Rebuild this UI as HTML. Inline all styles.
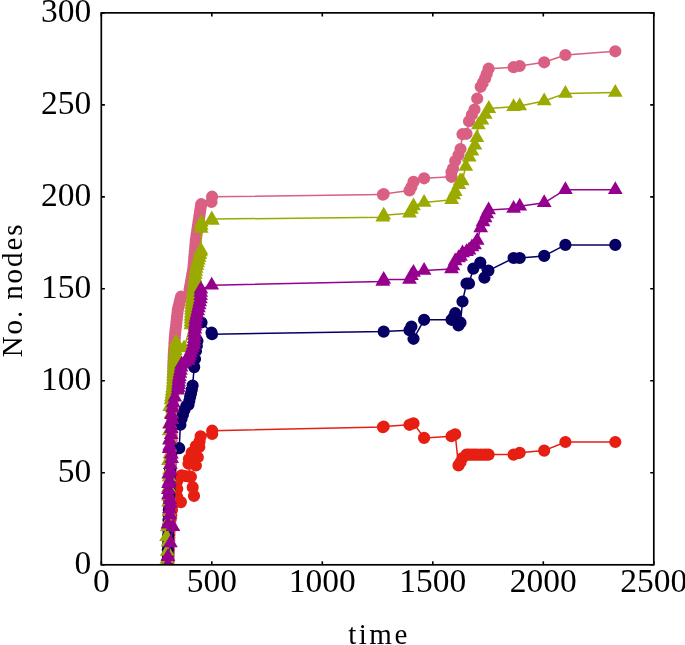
<!DOCTYPE html>
<html><head><meta charset="utf-8"><title>No. nodes over time</title>
<style>
html,body{margin:0;padding:0;background:#fff}
svg{display:block}
text{font-family:"Liberation Serif",serif;fill:#000}
.tk text{font-size:33.5px}
.lb{font-size:29px;letter-spacing:2.5px}.yl{letter-spacing:1.9px}
</style></head><body>
<svg width="685" height="645" viewBox="0 0 685 645">
<rect width="685" height="645" fill="#fff"/>
<defs><clipPath id="cp"><rect x="101.3" y="12.85" width="552.5" height="551.9499999999999"/></clipPath></defs>
<g clip-path="url(#cp)">
<path d="M168.5 564.8L168.6 561.8L168.7 558.8L168.8 555.8L168.9 552.9L169.0 549.9L169.1 546.9L169.2 543.9L169.3 540.9L169.4 537.9L169.5 534.9L169.6 531.9L169.7 529.0L169.8 526.0L169.9 523.0L170.0 520.0L170.1 517.1L170.1 514.1L170.2 511.2L170.2 508.2L170.3 505.3L170.4 502.4L170.4 499.4L170.5 496.5L170.5 493.5L170.6 490.6L170.6 487.6L170.7 484.7L170.8 481.8L170.8 478.8L170.9 475.9L170.9 472.9L171.0 470.0L171.1 467.1L171.1 464.1L171.2 461.2L171.2 458.2L171.3 455.3L171.4 452.4L171.4 449.4L171.5 446.5L171.5 443.5L171.6 440.6L171.6 437.6L171.7 434.7L171.8 431.8L171.8 428.8L171.9 425.9L171.9 422.9L172.0 420.0L172.1 416.9L172.2 413.8L172.2 410.8L172.3 407.7L172.4 404.6L172.5 401.5L172.5 398.5L172.6 395.4L172.7 392.3L172.8 389.2L172.8 386.2L172.9 383.1L173.0 380.0L173.1 376.9L173.2 373.8L173.3 370.6L173.3 367.5L173.4 364.4L173.5 361.2L173.6 358.1L173.7 355.0L173.9 352.1L174.1 349.3L174.3 346.4L174.4 343.6L174.6 340.7L174.8 337.9L175.0 335.0L175.3 331.9L175.7 328.8L176.1 325.6L176.4 322.5L176.8 319.4L177.1 316.2L177.5 313.1L177.8 310.0L178.4 307.3L179.1 304.7L179.7 302.0L180.4 299.4L181.0 296.7L189.6 289.6L190.1 286.6L190.7 283.6L191.2 280.6L191.7 277.5L192.2 274.5L192.8 271.5L193.3 268.5L193.6 265.6L193.8 262.8L194.1 259.9L194.3 257.1L194.6 254.2L194.8 251.4L195.1 248.6L195.3 245.7L195.6 242.8L195.8 240.0L196.2 237.0L196.7 234.0L197.2 230.9L197.6 227.9L198.1 224.9L198.5 221.9L199.0 218.9L199.4 215.8L199.9 212.8L200.3 209.8L200.8 207.0L201.2 204.2L211.5 202.0L212.1 196.7L382.9 194.6L383.7 194.1L409.5 190.5L411.4 187.0L413.5 181.9L424.1 178.3L451.5 176.8L451.5 172.0L453.0 168.6L455.2 161.0L458.5 155.0L460.5 149.0L462.5 134.2L466.5 133.8L469.0 121.2L471.9 114.8L474.5 109.5L477.2 98.5L480.7 86.8L483.0 82.6L485.1 78.4L486.7 74.0L488.6 68.7L513.6 67.2L519.7 66.0L544.2 62.3L565.4 55.0L615.3 51.3" fill="none" stroke="#D95F83" stroke-width="1.5" stroke-linejoin="round"/>
<path d="M162.4 564.8a6.1 6.1 0 1 0 12.2 0a6.1 6.1 0 1 0 -12.2 0ZM162.5 561.8a6.1 6.1 0 1 0 12.2 0a6.1 6.1 0 1 0 -12.2 0ZM162.6 558.8a6.1 6.1 0 1 0 12.2 0a6.1 6.1 0 1 0 -12.2 0ZM162.7 555.8a6.1 6.1 0 1 0 12.2 0a6.1 6.1 0 1 0 -12.2 0ZM162.8 552.9a6.1 6.1 0 1 0 12.2 0a6.1 6.1 0 1 0 -12.2 0ZM162.9 549.9a6.1 6.1 0 1 0 12.2 0a6.1 6.1 0 1 0 -12.2 0ZM163.0 546.9a6.1 6.1 0 1 0 12.2 0a6.1 6.1 0 1 0 -12.2 0ZM163.1 543.9a6.1 6.1 0 1 0 12.2 0a6.1 6.1 0 1 0 -12.2 0ZM163.2 540.9a6.1 6.1 0 1 0 12.2 0a6.1 6.1 0 1 0 -12.2 0ZM163.3 537.9a6.1 6.1 0 1 0 12.2 0a6.1 6.1 0 1 0 -12.2 0ZM163.4 534.9a6.1 6.1 0 1 0 12.2 0a6.1 6.1 0 1 0 -12.2 0ZM163.5 531.9a6.1 6.1 0 1 0 12.2 0a6.1 6.1 0 1 0 -12.2 0ZM163.6 529.0a6.1 6.1 0 1 0 12.2 0a6.1 6.1 0 1 0 -12.2 0ZM163.7 526.0a6.1 6.1 0 1 0 12.2 0a6.1 6.1 0 1 0 -12.2 0ZM163.8 523.0a6.1 6.1 0 1 0 12.2 0a6.1 6.1 0 1 0 -12.2 0ZM163.9 520.0a6.1 6.1 0 1 0 12.2 0a6.1 6.1 0 1 0 -12.2 0ZM164.0 517.1a6.1 6.1 0 1 0 12.2 0a6.1 6.1 0 1 0 -12.2 0ZM164.0 514.1a6.1 6.1 0 1 0 12.2 0a6.1 6.1 0 1 0 -12.2 0ZM164.1 511.2a6.1 6.1 0 1 0 12.2 0a6.1 6.1 0 1 0 -12.2 0ZM164.1 508.2a6.1 6.1 0 1 0 12.2 0a6.1 6.1 0 1 0 -12.2 0ZM164.2 505.3a6.1 6.1 0 1 0 12.2 0a6.1 6.1 0 1 0 -12.2 0ZM164.3 502.4a6.1 6.1 0 1 0 12.2 0a6.1 6.1 0 1 0 -12.2 0ZM164.3 499.4a6.1 6.1 0 1 0 12.2 0a6.1 6.1 0 1 0 -12.2 0ZM164.4 496.5a6.1 6.1 0 1 0 12.2 0a6.1 6.1 0 1 0 -12.2 0ZM164.4 493.5a6.1 6.1 0 1 0 12.2 0a6.1 6.1 0 1 0 -12.2 0ZM164.5 490.6a6.1 6.1 0 1 0 12.2 0a6.1 6.1 0 1 0 -12.2 0ZM164.5 487.6a6.1 6.1 0 1 0 12.2 0a6.1 6.1 0 1 0 -12.2 0ZM164.6 484.7a6.1 6.1 0 1 0 12.2 0a6.1 6.1 0 1 0 -12.2 0ZM164.7 481.8a6.1 6.1 0 1 0 12.2 0a6.1 6.1 0 1 0 -12.2 0ZM164.7 478.8a6.1 6.1 0 1 0 12.2 0a6.1 6.1 0 1 0 -12.2 0ZM164.8 475.9a6.1 6.1 0 1 0 12.2 0a6.1 6.1 0 1 0 -12.2 0ZM164.8 472.9a6.1 6.1 0 1 0 12.2 0a6.1 6.1 0 1 0 -12.2 0ZM164.9 470.0a6.1 6.1 0 1 0 12.2 0a6.1 6.1 0 1 0 -12.2 0ZM165.0 467.1a6.1 6.1 0 1 0 12.2 0a6.1 6.1 0 1 0 -12.2 0ZM165.0 464.1a6.1 6.1 0 1 0 12.2 0a6.1 6.1 0 1 0 -12.2 0ZM165.1 461.2a6.1 6.1 0 1 0 12.2 0a6.1 6.1 0 1 0 -12.2 0ZM165.1 458.2a6.1 6.1 0 1 0 12.2 0a6.1 6.1 0 1 0 -12.2 0ZM165.2 455.3a6.1 6.1 0 1 0 12.2 0a6.1 6.1 0 1 0 -12.2 0ZM165.3 452.4a6.1 6.1 0 1 0 12.2 0a6.1 6.1 0 1 0 -12.2 0ZM165.3 449.4a6.1 6.1 0 1 0 12.2 0a6.1 6.1 0 1 0 -12.2 0ZM165.4 446.5a6.1 6.1 0 1 0 12.2 0a6.1 6.1 0 1 0 -12.2 0ZM165.4 443.5a6.1 6.1 0 1 0 12.2 0a6.1 6.1 0 1 0 -12.2 0ZM165.5 440.6a6.1 6.1 0 1 0 12.2 0a6.1 6.1 0 1 0 -12.2 0ZM165.5 437.6a6.1 6.1 0 1 0 12.2 0a6.1 6.1 0 1 0 -12.2 0ZM165.6 434.7a6.1 6.1 0 1 0 12.2 0a6.1 6.1 0 1 0 -12.2 0ZM165.7 431.8a6.1 6.1 0 1 0 12.2 0a6.1 6.1 0 1 0 -12.2 0ZM165.7 428.8a6.1 6.1 0 1 0 12.2 0a6.1 6.1 0 1 0 -12.2 0ZM165.8 425.9a6.1 6.1 0 1 0 12.2 0a6.1 6.1 0 1 0 -12.2 0ZM165.8 422.9a6.1 6.1 0 1 0 12.2 0a6.1 6.1 0 1 0 -12.2 0ZM165.9 420.0a6.1 6.1 0 1 0 12.2 0a6.1 6.1 0 1 0 -12.2 0ZM166.0 416.9a6.1 6.1 0 1 0 12.2 0a6.1 6.1 0 1 0 -12.2 0ZM166.1 413.8a6.1 6.1 0 1 0 12.2 0a6.1 6.1 0 1 0 -12.2 0ZM166.1 410.8a6.1 6.1 0 1 0 12.2 0a6.1 6.1 0 1 0 -12.2 0ZM166.2 407.7a6.1 6.1 0 1 0 12.2 0a6.1 6.1 0 1 0 -12.2 0ZM166.3 404.6a6.1 6.1 0 1 0 12.2 0a6.1 6.1 0 1 0 -12.2 0ZM166.4 401.5a6.1 6.1 0 1 0 12.2 0a6.1 6.1 0 1 0 -12.2 0ZM166.4 398.5a6.1 6.1 0 1 0 12.2 0a6.1 6.1 0 1 0 -12.2 0ZM166.5 395.4a6.1 6.1 0 1 0 12.2 0a6.1 6.1 0 1 0 -12.2 0ZM166.6 392.3a6.1 6.1 0 1 0 12.2 0a6.1 6.1 0 1 0 -12.2 0ZM166.7 389.2a6.1 6.1 0 1 0 12.2 0a6.1 6.1 0 1 0 -12.2 0ZM166.7 386.2a6.1 6.1 0 1 0 12.2 0a6.1 6.1 0 1 0 -12.2 0ZM166.8 383.1a6.1 6.1 0 1 0 12.2 0a6.1 6.1 0 1 0 -12.2 0ZM166.9 380.0a6.1 6.1 0 1 0 12.2 0a6.1 6.1 0 1 0 -12.2 0ZM167.0 376.9a6.1 6.1 0 1 0 12.2 0a6.1 6.1 0 1 0 -12.2 0ZM167.1 373.8a6.1 6.1 0 1 0 12.2 0a6.1 6.1 0 1 0 -12.2 0ZM167.2 370.6a6.1 6.1 0 1 0 12.2 0a6.1 6.1 0 1 0 -12.2 0ZM167.2 367.5a6.1 6.1 0 1 0 12.2 0a6.1 6.1 0 1 0 -12.2 0ZM167.3 364.4a6.1 6.1 0 1 0 12.2 0a6.1 6.1 0 1 0 -12.2 0ZM167.4 361.2a6.1 6.1 0 1 0 12.2 0a6.1 6.1 0 1 0 -12.2 0ZM167.5 358.1a6.1 6.1 0 1 0 12.2 0a6.1 6.1 0 1 0 -12.2 0ZM167.6 355.0a6.1 6.1 0 1 0 12.2 0a6.1 6.1 0 1 0 -12.2 0ZM167.8 352.1a6.1 6.1 0 1 0 12.2 0a6.1 6.1 0 1 0 -12.2 0ZM168.0 349.3a6.1 6.1 0 1 0 12.2 0a6.1 6.1 0 1 0 -12.2 0ZM168.2 346.4a6.1 6.1 0 1 0 12.2 0a6.1 6.1 0 1 0 -12.2 0ZM168.3 343.6a6.1 6.1 0 1 0 12.2 0a6.1 6.1 0 1 0 -12.2 0ZM168.5 340.7a6.1 6.1 0 1 0 12.2 0a6.1 6.1 0 1 0 -12.2 0ZM168.7 337.9a6.1 6.1 0 1 0 12.2 0a6.1 6.1 0 1 0 -12.2 0ZM168.9 335.0a6.1 6.1 0 1 0 12.2 0a6.1 6.1 0 1 0 -12.2 0ZM169.2 331.9a6.1 6.1 0 1 0 12.2 0a6.1 6.1 0 1 0 -12.2 0ZM169.6 328.8a6.1 6.1 0 1 0 12.2 0a6.1 6.1 0 1 0 -12.2 0ZM170.0 325.6a6.1 6.1 0 1 0 12.2 0a6.1 6.1 0 1 0 -12.2 0ZM170.3 322.5a6.1 6.1 0 1 0 12.2 0a6.1 6.1 0 1 0 -12.2 0ZM170.7 319.4a6.1 6.1 0 1 0 12.2 0a6.1 6.1 0 1 0 -12.2 0ZM171.0 316.2a6.1 6.1 0 1 0 12.2 0a6.1 6.1 0 1 0 -12.2 0ZM171.4 313.1a6.1 6.1 0 1 0 12.2 0a6.1 6.1 0 1 0 -12.2 0ZM171.7 310.0a6.1 6.1 0 1 0 12.2 0a6.1 6.1 0 1 0 -12.2 0ZM172.3 307.3a6.1 6.1 0 1 0 12.2 0a6.1 6.1 0 1 0 -12.2 0ZM173.0 304.7a6.1 6.1 0 1 0 12.2 0a6.1 6.1 0 1 0 -12.2 0ZM173.6 302.0a6.1 6.1 0 1 0 12.2 0a6.1 6.1 0 1 0 -12.2 0ZM174.3 299.4a6.1 6.1 0 1 0 12.2 0a6.1 6.1 0 1 0 -12.2 0ZM174.9 296.7a6.1 6.1 0 1 0 12.2 0a6.1 6.1 0 1 0 -12.2 0ZM183.5 289.6a6.1 6.1 0 1 0 12.2 0a6.1 6.1 0 1 0 -12.2 0ZM184.0 286.6a6.1 6.1 0 1 0 12.2 0a6.1 6.1 0 1 0 -12.2 0ZM184.6 283.6a6.1 6.1 0 1 0 12.2 0a6.1 6.1 0 1 0 -12.2 0ZM185.1 280.6a6.1 6.1 0 1 0 12.2 0a6.1 6.1 0 1 0 -12.2 0ZM185.6 277.5a6.1 6.1 0 1 0 12.2 0a6.1 6.1 0 1 0 -12.2 0ZM186.1 274.5a6.1 6.1 0 1 0 12.2 0a6.1 6.1 0 1 0 -12.2 0ZM186.7 271.5a6.1 6.1 0 1 0 12.2 0a6.1 6.1 0 1 0 -12.2 0ZM187.2 268.5a6.1 6.1 0 1 0 12.2 0a6.1 6.1 0 1 0 -12.2 0ZM187.5 265.6a6.1 6.1 0 1 0 12.2 0a6.1 6.1 0 1 0 -12.2 0ZM187.7 262.8a6.1 6.1 0 1 0 12.2 0a6.1 6.1 0 1 0 -12.2 0ZM188.0 259.9a6.1 6.1 0 1 0 12.2 0a6.1 6.1 0 1 0 -12.2 0ZM188.2 257.1a6.1 6.1 0 1 0 12.2 0a6.1 6.1 0 1 0 -12.2 0ZM188.5 254.2a6.1 6.1 0 1 0 12.2 0a6.1 6.1 0 1 0 -12.2 0ZM188.7 251.4a6.1 6.1 0 1 0 12.2 0a6.1 6.1 0 1 0 -12.2 0ZM189.0 248.6a6.1 6.1 0 1 0 12.2 0a6.1 6.1 0 1 0 -12.2 0ZM189.2 245.7a6.1 6.1 0 1 0 12.2 0a6.1 6.1 0 1 0 -12.2 0ZM189.5 242.8a6.1 6.1 0 1 0 12.2 0a6.1 6.1 0 1 0 -12.2 0ZM189.7 240.0a6.1 6.1 0 1 0 12.2 0a6.1 6.1 0 1 0 -12.2 0ZM190.2 237.0a6.1 6.1 0 1 0 12.2 0a6.1 6.1 0 1 0 -12.2 0ZM190.6 234.0a6.1 6.1 0 1 0 12.2 0a6.1 6.1 0 1 0 -12.2 0ZM191.1 230.9a6.1 6.1 0 1 0 12.2 0a6.1 6.1 0 1 0 -12.2 0ZM191.5 227.9a6.1 6.1 0 1 0 12.2 0a6.1 6.1 0 1 0 -12.2 0ZM192.0 224.9a6.1 6.1 0 1 0 12.2 0a6.1 6.1 0 1 0 -12.2 0ZM192.4 221.9a6.1 6.1 0 1 0 12.2 0a6.1 6.1 0 1 0 -12.2 0ZM192.9 218.9a6.1 6.1 0 1 0 12.2 0a6.1 6.1 0 1 0 -12.2 0ZM193.3 215.8a6.1 6.1 0 1 0 12.2 0a6.1 6.1 0 1 0 -12.2 0ZM193.8 212.8a6.1 6.1 0 1 0 12.2 0a6.1 6.1 0 1 0 -12.2 0ZM194.2 209.8a6.1 6.1 0 1 0 12.2 0a6.1 6.1 0 1 0 -12.2 0ZM194.7 207.0a6.1 6.1 0 1 0 12.2 0a6.1 6.1 0 1 0 -12.2 0ZM195.1 204.2a6.1 6.1 0 1 0 12.2 0a6.1 6.1 0 1 0 -12.2 0ZM205.4 202.0a6.1 6.1 0 1 0 12.2 0a6.1 6.1 0 1 0 -12.2 0ZM206.0 196.7a6.1 6.1 0 1 0 12.2 0a6.1 6.1 0 1 0 -12.2 0ZM376.8 194.6a6.1 6.1 0 1 0 12.2 0a6.1 6.1 0 1 0 -12.2 0ZM377.6 194.1a6.1 6.1 0 1 0 12.2 0a6.1 6.1 0 1 0 -12.2 0ZM403.4 190.5a6.1 6.1 0 1 0 12.2 0a6.1 6.1 0 1 0 -12.2 0ZM405.3 187.0a6.1 6.1 0 1 0 12.2 0a6.1 6.1 0 1 0 -12.2 0ZM407.4 181.9a6.1 6.1 0 1 0 12.2 0a6.1 6.1 0 1 0 -12.2 0ZM418.0 178.3a6.1 6.1 0 1 0 12.2 0a6.1 6.1 0 1 0 -12.2 0ZM445.4 176.8a6.1 6.1 0 1 0 12.2 0a6.1 6.1 0 1 0 -12.2 0ZM445.4 172.0a6.1 6.1 0 1 0 12.2 0a6.1 6.1 0 1 0 -12.2 0ZM446.9 168.6a6.1 6.1 0 1 0 12.2 0a6.1 6.1 0 1 0 -12.2 0ZM449.1 161.0a6.1 6.1 0 1 0 12.2 0a6.1 6.1 0 1 0 -12.2 0ZM452.4 155.0a6.1 6.1 0 1 0 12.2 0a6.1 6.1 0 1 0 -12.2 0ZM454.4 149.0a6.1 6.1 0 1 0 12.2 0a6.1 6.1 0 1 0 -12.2 0ZM456.4 134.2a6.1 6.1 0 1 0 12.2 0a6.1 6.1 0 1 0 -12.2 0ZM460.4 133.8a6.1 6.1 0 1 0 12.2 0a6.1 6.1 0 1 0 -12.2 0ZM462.9 121.2a6.1 6.1 0 1 0 12.2 0a6.1 6.1 0 1 0 -12.2 0ZM465.8 114.8a6.1 6.1 0 1 0 12.2 0a6.1 6.1 0 1 0 -12.2 0ZM468.4 109.5a6.1 6.1 0 1 0 12.2 0a6.1 6.1 0 1 0 -12.2 0ZM471.1 98.5a6.1 6.1 0 1 0 12.2 0a6.1 6.1 0 1 0 -12.2 0ZM474.6 86.8a6.1 6.1 0 1 0 12.2 0a6.1 6.1 0 1 0 -12.2 0ZM476.9 82.6a6.1 6.1 0 1 0 12.2 0a6.1 6.1 0 1 0 -12.2 0ZM479.0 78.4a6.1 6.1 0 1 0 12.2 0a6.1 6.1 0 1 0 -12.2 0ZM480.6 74.0a6.1 6.1 0 1 0 12.2 0a6.1 6.1 0 1 0 -12.2 0ZM482.5 68.7a6.1 6.1 0 1 0 12.2 0a6.1 6.1 0 1 0 -12.2 0ZM507.5 67.2a6.1 6.1 0 1 0 12.2 0a6.1 6.1 0 1 0 -12.2 0ZM513.6 66.0a6.1 6.1 0 1 0 12.2 0a6.1 6.1 0 1 0 -12.2 0ZM538.1 62.3a6.1 6.1 0 1 0 12.2 0a6.1 6.1 0 1 0 -12.2 0ZM559.3 55.0a6.1 6.1 0 1 0 12.2 0a6.1 6.1 0 1 0 -12.2 0ZM609.2 51.3a6.1 6.1 0 1 0 12.2 0a6.1 6.1 0 1 0 -12.2 0Z" fill="#D95F83"/>
<path d="M167.8 564.8L168.0 559.8L168.1 554.9L168.3 549.9L168.5 544.9L168.7 539.9L168.8 535.0L169.0 530.0L169.8 525.0L170.5 520.0L171.2 515.0L172.0 510.0L177.2 497.0L177.2 489.0L177.2 481.0L180.9 502.1L181.6 475.4L185.0 476.0L188.0 476.3L190.9 476.7L192.7 487.2L194.0 495.9L188.5 463.7L188.9 459.0L191.7 452.5L193.6 459.0L195.9 465.5L197.8 457.2L194.5 451.6L195.9 446.0L199.3 447.0L199.6 441.4L200.6 436.3L212.2 433.9L212.2 430.7L382.9 427.1L383.7 426.5L409.5 424.8L411.4 424.0L413.5 423.3L424.1 437.9L451.5 436.2L453.0 435.5L455.2 434.3L458.5 465.4L460.5 462.2L462.5 458.0L466.5 454.6L469.0 454.6L471.9 454.6L474.5 454.6L477.2 454.6L480.7 454.6L483.0 454.6L485.1 454.6L486.7 454.6L488.6 454.6L513.6 454.6L519.7 452.8L544.2 450.6L565.4 442.0L615.3 442.0" fill="none" stroke="#E61F12" stroke-width="1.5" stroke-linejoin="round"/>
<path d="M161.7 564.8a6.1 6.1 0 1 0 12.2 0a6.1 6.1 0 1 0 -12.2 0ZM161.9 559.8a6.1 6.1 0 1 0 12.2 0a6.1 6.1 0 1 0 -12.2 0ZM162.0 554.9a6.1 6.1 0 1 0 12.2 0a6.1 6.1 0 1 0 -12.2 0ZM162.2 549.9a6.1 6.1 0 1 0 12.2 0a6.1 6.1 0 1 0 -12.2 0ZM162.4 544.9a6.1 6.1 0 1 0 12.2 0a6.1 6.1 0 1 0 -12.2 0ZM162.6 539.9a6.1 6.1 0 1 0 12.2 0a6.1 6.1 0 1 0 -12.2 0ZM162.7 535.0a6.1 6.1 0 1 0 12.2 0a6.1 6.1 0 1 0 -12.2 0ZM162.9 530.0a6.1 6.1 0 1 0 12.2 0a6.1 6.1 0 1 0 -12.2 0ZM163.7 525.0a6.1 6.1 0 1 0 12.2 0a6.1 6.1 0 1 0 -12.2 0ZM164.4 520.0a6.1 6.1 0 1 0 12.2 0a6.1 6.1 0 1 0 -12.2 0ZM165.2 515.0a6.1 6.1 0 1 0 12.2 0a6.1 6.1 0 1 0 -12.2 0ZM165.9 510.0a6.1 6.1 0 1 0 12.2 0a6.1 6.1 0 1 0 -12.2 0ZM171.1 497.0a6.1 6.1 0 1 0 12.2 0a6.1 6.1 0 1 0 -12.2 0ZM171.1 489.0a6.1 6.1 0 1 0 12.2 0a6.1 6.1 0 1 0 -12.2 0ZM171.1 481.0a6.1 6.1 0 1 0 12.2 0a6.1 6.1 0 1 0 -12.2 0ZM174.8 502.1a6.1 6.1 0 1 0 12.2 0a6.1 6.1 0 1 0 -12.2 0ZM175.5 475.4a6.1 6.1 0 1 0 12.2 0a6.1 6.1 0 1 0 -12.2 0ZM178.9 476.0a6.1 6.1 0 1 0 12.2 0a6.1 6.1 0 1 0 -12.2 0ZM181.9 476.3a6.1 6.1 0 1 0 12.2 0a6.1 6.1 0 1 0 -12.2 0ZM184.8 476.7a6.1 6.1 0 1 0 12.2 0a6.1 6.1 0 1 0 -12.2 0ZM186.6 487.2a6.1 6.1 0 1 0 12.2 0a6.1 6.1 0 1 0 -12.2 0ZM187.9 495.9a6.1 6.1 0 1 0 12.2 0a6.1 6.1 0 1 0 -12.2 0ZM182.4 463.7a6.1 6.1 0 1 0 12.2 0a6.1 6.1 0 1 0 -12.2 0ZM182.8 459.0a6.1 6.1 0 1 0 12.2 0a6.1 6.1 0 1 0 -12.2 0ZM185.6 452.5a6.1 6.1 0 1 0 12.2 0a6.1 6.1 0 1 0 -12.2 0ZM187.5 459.0a6.1 6.1 0 1 0 12.2 0a6.1 6.1 0 1 0 -12.2 0ZM189.8 465.5a6.1 6.1 0 1 0 12.2 0a6.1 6.1 0 1 0 -12.2 0ZM191.7 457.2a6.1 6.1 0 1 0 12.2 0a6.1 6.1 0 1 0 -12.2 0ZM188.4 451.6a6.1 6.1 0 1 0 12.2 0a6.1 6.1 0 1 0 -12.2 0ZM189.8 446.0a6.1 6.1 0 1 0 12.2 0a6.1 6.1 0 1 0 -12.2 0ZM193.2 447.0a6.1 6.1 0 1 0 12.2 0a6.1 6.1 0 1 0 -12.2 0ZM193.5 441.4a6.1 6.1 0 1 0 12.2 0a6.1 6.1 0 1 0 -12.2 0ZM194.5 436.3a6.1 6.1 0 1 0 12.2 0a6.1 6.1 0 1 0 -12.2 0ZM206.1 433.9a6.1 6.1 0 1 0 12.2 0a6.1 6.1 0 1 0 -12.2 0ZM206.1 430.7a6.1 6.1 0 1 0 12.2 0a6.1 6.1 0 1 0 -12.2 0ZM376.8 427.1a6.1 6.1 0 1 0 12.2 0a6.1 6.1 0 1 0 -12.2 0ZM377.6 426.5a6.1 6.1 0 1 0 12.2 0a6.1 6.1 0 1 0 -12.2 0ZM403.4 424.8a6.1 6.1 0 1 0 12.2 0a6.1 6.1 0 1 0 -12.2 0ZM405.3 424.0a6.1 6.1 0 1 0 12.2 0a6.1 6.1 0 1 0 -12.2 0ZM407.4 423.3a6.1 6.1 0 1 0 12.2 0a6.1 6.1 0 1 0 -12.2 0ZM418.0 437.9a6.1 6.1 0 1 0 12.2 0a6.1 6.1 0 1 0 -12.2 0ZM445.4 436.2a6.1 6.1 0 1 0 12.2 0a6.1 6.1 0 1 0 -12.2 0ZM446.9 435.5a6.1 6.1 0 1 0 12.2 0a6.1 6.1 0 1 0 -12.2 0ZM449.1 434.3a6.1 6.1 0 1 0 12.2 0a6.1 6.1 0 1 0 -12.2 0ZM452.4 465.4a6.1 6.1 0 1 0 12.2 0a6.1 6.1 0 1 0 -12.2 0ZM454.4 462.2a6.1 6.1 0 1 0 12.2 0a6.1 6.1 0 1 0 -12.2 0ZM456.4 458.0a6.1 6.1 0 1 0 12.2 0a6.1 6.1 0 1 0 -12.2 0ZM460.4 454.6a6.1 6.1 0 1 0 12.2 0a6.1 6.1 0 1 0 -12.2 0ZM462.9 454.6a6.1 6.1 0 1 0 12.2 0a6.1 6.1 0 1 0 -12.2 0ZM465.8 454.6a6.1 6.1 0 1 0 12.2 0a6.1 6.1 0 1 0 -12.2 0ZM468.4 454.6a6.1 6.1 0 1 0 12.2 0a6.1 6.1 0 1 0 -12.2 0ZM471.1 454.6a6.1 6.1 0 1 0 12.2 0a6.1 6.1 0 1 0 -12.2 0ZM474.6 454.6a6.1 6.1 0 1 0 12.2 0a6.1 6.1 0 1 0 -12.2 0ZM476.9 454.6a6.1 6.1 0 1 0 12.2 0a6.1 6.1 0 1 0 -12.2 0ZM479.0 454.6a6.1 6.1 0 1 0 12.2 0a6.1 6.1 0 1 0 -12.2 0ZM480.6 454.6a6.1 6.1 0 1 0 12.2 0a6.1 6.1 0 1 0 -12.2 0ZM482.5 454.6a6.1 6.1 0 1 0 12.2 0a6.1 6.1 0 1 0 -12.2 0ZM507.5 454.6a6.1 6.1 0 1 0 12.2 0a6.1 6.1 0 1 0 -12.2 0ZM513.6 452.8a6.1 6.1 0 1 0 12.2 0a6.1 6.1 0 1 0 -12.2 0ZM538.1 450.6a6.1 6.1 0 1 0 12.2 0a6.1 6.1 0 1 0 -12.2 0ZM559.3 442.0a6.1 6.1 0 1 0 12.2 0a6.1 6.1 0 1 0 -12.2 0ZM609.2 442.0a6.1 6.1 0 1 0 12.2 0a6.1 6.1 0 1 0 -12.2 0Z" fill="#E61F12"/>
<path d="M167.5 564.8L167.6 559.8L167.7 554.8L167.8 549.9L167.9 544.9L168.1 539.9L168.2 534.9L168.3 530.0L168.4 525.0L168.5 520.0L168.7 515.0L168.8 510.0L168.9 505.0L169.1 500.0L169.2 495.0L169.4 490.0L169.6 485.0L169.7 480.0L169.8 475.0L170.0 470.0L179.2 448.2L180.4 424.7L181.5 419.0L182.9 414.7L184.5 410.0L186.3 406.0L188.5 404.8L189.3 401.0L190.1 397.1L191.0 393.3L191.8 389.4L192.6 385.6L194.2 367.1L195.0 359.0L196.0 351.0L196.8 346.0L197.4 341.0L201.5 322.5L211.5 332.5L212.0 334.2L383.7 331.6L409.5 330.3L411.4 326.5L413.5 338.8L424.1 319.8L451.5 319.8L453.0 318.0L455.2 313.2L458.5 325.5L460.5 322.7L462.5 301.5L466.5 283.5L469.0 283.5L473.3 268.6L480.3 262.6L484.4 277.7L488.4 270.6L513.6 258.0L519.7 258.0L544.2 255.9L565.4 244.9L615.3 244.9" fill="none" stroke="#060064" stroke-width="1.5" stroke-linejoin="round"/>
<path d="M161.4 564.8a6.1 6.1 0 1 0 12.2 0a6.1 6.1 0 1 0 -12.2 0ZM161.5 559.8a6.1 6.1 0 1 0 12.2 0a6.1 6.1 0 1 0 -12.2 0ZM161.6 554.8a6.1 6.1 0 1 0 12.2 0a6.1 6.1 0 1 0 -12.2 0ZM161.7 549.9a6.1 6.1 0 1 0 12.2 0a6.1 6.1 0 1 0 -12.2 0ZM161.8 544.9a6.1 6.1 0 1 0 12.2 0a6.1 6.1 0 1 0 -12.2 0ZM162.0 539.9a6.1 6.1 0 1 0 12.2 0a6.1 6.1 0 1 0 -12.2 0ZM162.1 534.9a6.1 6.1 0 1 0 12.2 0a6.1 6.1 0 1 0 -12.2 0ZM162.2 530.0a6.1 6.1 0 1 0 12.2 0a6.1 6.1 0 1 0 -12.2 0ZM162.3 525.0a6.1 6.1 0 1 0 12.2 0a6.1 6.1 0 1 0 -12.2 0ZM162.4 520.0a6.1 6.1 0 1 0 12.2 0a6.1 6.1 0 1 0 -12.2 0ZM162.6 515.0a6.1 6.1 0 1 0 12.2 0a6.1 6.1 0 1 0 -12.2 0ZM162.7 510.0a6.1 6.1 0 1 0 12.2 0a6.1 6.1 0 1 0 -12.2 0ZM162.8 505.0a6.1 6.1 0 1 0 12.2 0a6.1 6.1 0 1 0 -12.2 0ZM163.0 500.0a6.1 6.1 0 1 0 12.2 0a6.1 6.1 0 1 0 -12.2 0ZM163.2 495.0a6.1 6.1 0 1 0 12.2 0a6.1 6.1 0 1 0 -12.2 0ZM163.3 490.0a6.1 6.1 0 1 0 12.2 0a6.1 6.1 0 1 0 -12.2 0ZM163.5 485.0a6.1 6.1 0 1 0 12.2 0a6.1 6.1 0 1 0 -12.2 0ZM163.6 480.0a6.1 6.1 0 1 0 12.2 0a6.1 6.1 0 1 0 -12.2 0ZM163.8 475.0a6.1 6.1 0 1 0 12.2 0a6.1 6.1 0 1 0 -12.2 0ZM163.9 470.0a6.1 6.1 0 1 0 12.2 0a6.1 6.1 0 1 0 -12.2 0ZM173.1 448.2a6.1 6.1 0 1 0 12.2 0a6.1 6.1 0 1 0 -12.2 0ZM174.3 424.7a6.1 6.1 0 1 0 12.2 0a6.1 6.1 0 1 0 -12.2 0ZM175.4 419.0a6.1 6.1 0 1 0 12.2 0a6.1 6.1 0 1 0 -12.2 0ZM176.8 414.7a6.1 6.1 0 1 0 12.2 0a6.1 6.1 0 1 0 -12.2 0ZM178.4 410.0a6.1 6.1 0 1 0 12.2 0a6.1 6.1 0 1 0 -12.2 0ZM180.2 406.0a6.1 6.1 0 1 0 12.2 0a6.1 6.1 0 1 0 -12.2 0ZM182.4 404.8a6.1 6.1 0 1 0 12.2 0a6.1 6.1 0 1 0 -12.2 0ZM183.2 401.0a6.1 6.1 0 1 0 12.2 0a6.1 6.1 0 1 0 -12.2 0ZM184.0 397.1a6.1 6.1 0 1 0 12.2 0a6.1 6.1 0 1 0 -12.2 0ZM184.9 393.3a6.1 6.1 0 1 0 12.2 0a6.1 6.1 0 1 0 -12.2 0ZM185.7 389.4a6.1 6.1 0 1 0 12.2 0a6.1 6.1 0 1 0 -12.2 0ZM186.5 385.6a6.1 6.1 0 1 0 12.2 0a6.1 6.1 0 1 0 -12.2 0ZM188.1 367.1a6.1 6.1 0 1 0 12.2 0a6.1 6.1 0 1 0 -12.2 0ZM188.9 359.0a6.1 6.1 0 1 0 12.2 0a6.1 6.1 0 1 0 -12.2 0ZM189.9 351.0a6.1 6.1 0 1 0 12.2 0a6.1 6.1 0 1 0 -12.2 0ZM190.7 346.0a6.1 6.1 0 1 0 12.2 0a6.1 6.1 0 1 0 -12.2 0ZM191.3 341.0a6.1 6.1 0 1 0 12.2 0a6.1 6.1 0 1 0 -12.2 0ZM195.4 322.5a6.1 6.1 0 1 0 12.2 0a6.1 6.1 0 1 0 -12.2 0ZM205.4 332.5a6.1 6.1 0 1 0 12.2 0a6.1 6.1 0 1 0 -12.2 0ZM205.9 334.2a6.1 6.1 0 1 0 12.2 0a6.1 6.1 0 1 0 -12.2 0ZM377.6 331.6a6.1 6.1 0 1 0 12.2 0a6.1 6.1 0 1 0 -12.2 0ZM403.4 330.3a6.1 6.1 0 1 0 12.2 0a6.1 6.1 0 1 0 -12.2 0ZM405.3 326.5a6.1 6.1 0 1 0 12.2 0a6.1 6.1 0 1 0 -12.2 0ZM407.4 338.8a6.1 6.1 0 1 0 12.2 0a6.1 6.1 0 1 0 -12.2 0ZM418.0 319.8a6.1 6.1 0 1 0 12.2 0a6.1 6.1 0 1 0 -12.2 0ZM445.4 319.8a6.1 6.1 0 1 0 12.2 0a6.1 6.1 0 1 0 -12.2 0ZM446.9 318.0a6.1 6.1 0 1 0 12.2 0a6.1 6.1 0 1 0 -12.2 0ZM449.1 313.2a6.1 6.1 0 1 0 12.2 0a6.1 6.1 0 1 0 -12.2 0ZM452.4 325.5a6.1 6.1 0 1 0 12.2 0a6.1 6.1 0 1 0 -12.2 0ZM454.4 322.7a6.1 6.1 0 1 0 12.2 0a6.1 6.1 0 1 0 -12.2 0ZM456.4 301.5a6.1 6.1 0 1 0 12.2 0a6.1 6.1 0 1 0 -12.2 0ZM460.4 283.5a6.1 6.1 0 1 0 12.2 0a6.1 6.1 0 1 0 -12.2 0ZM462.9 283.5a6.1 6.1 0 1 0 12.2 0a6.1 6.1 0 1 0 -12.2 0ZM467.2 268.6a6.1 6.1 0 1 0 12.2 0a6.1 6.1 0 1 0 -12.2 0ZM474.2 262.6a6.1 6.1 0 1 0 12.2 0a6.1 6.1 0 1 0 -12.2 0ZM478.3 277.7a6.1 6.1 0 1 0 12.2 0a6.1 6.1 0 1 0 -12.2 0ZM482.3 270.6a6.1 6.1 0 1 0 12.2 0a6.1 6.1 0 1 0 -12.2 0ZM507.5 258.0a6.1 6.1 0 1 0 12.2 0a6.1 6.1 0 1 0 -12.2 0ZM513.6 258.0a6.1 6.1 0 1 0 12.2 0a6.1 6.1 0 1 0 -12.2 0ZM538.1 255.9a6.1 6.1 0 1 0 12.2 0a6.1 6.1 0 1 0 -12.2 0ZM559.3 244.9a6.1 6.1 0 1 0 12.2 0a6.1 6.1 0 1 0 -12.2 0ZM609.2 244.9a6.1 6.1 0 1 0 12.2 0a6.1 6.1 0 1 0 -12.2 0Z" fill="#060064"/>
<path d="M167.0 564.8L166.9 559.1L167.3 551.5L168.1 542.1L166.6 536.6L167.3 527.0L169.3 519.9L169.0 511.6L168.6 502.3L168.8 496.1L168.6 487.4L169.1 477.0L169.5 470.3L168.4 460.6L170.0 453.9L169.8 447.1L169.9 439.3L169.2 430.9L169.7 423.8L171.2 413.8L169.7 406.7L171.0 400.0L171.4 397.0L171.8 394.0L172.2 391.0L172.6 388.0L173.0 385.0L173.2 382.1L173.4 379.2L173.6 376.4L173.8 373.5L173.9 370.6L174.1 367.8L174.3 364.9L174.5 362.0L174.7 359.2L175.0 356.4L175.2 353.6L175.4 350.7L175.6 347.9L175.9 345.1L176.1 342.3L184.0 348.0L190.8 324.9L190.9 322.0L191.0 319.1L191.1 316.2L191.3 313.2L191.4 310.3L191.5 307.4L191.6 304.5L192.0 301.5L192.4 298.5L192.8 295.5L193.1 292.5L193.5 289.5L193.9 286.5L194.3 283.5L194.7 280.5L195.0 277.5L195.4 274.5L195.8 271.5L196.2 268.5L196.9 265.8L197.6 263.0L198.3 260.2L199.1 257.5L199.8 254.8L200.5 252.0L200.9 250.3L201.2 228.4L201.2 225.4L201.2 222.4L212.3 220.5L211.8 219.1L382.8 217.2L383.7 215.2L409.5 213.3L411.4 209.5L413.5 206.0L424.1 202.4L451.7 199.7L453.7 195.0L455.3 191.6L458.8 184.6L460.2 181.0L462.2 181.0L465.8 166.4L469.2 157.3L471.9 151.3L474.9 145.2L476.9 137.8L478.4 124.9L481.9 120.2L485.3 114.4L488.8 108.6L513.6 106.7L519.7 105.9L544.2 101.0L565.4 93.4L615.3 92.4" fill="none" stroke="#9AAA00" stroke-width="1.5" stroke-linejoin="round"/>
<path d="M167.0 556.3L174.4 569.1L159.6 569.1ZM166.9 550.6L174.3 563.4L159.5 563.4ZM167.3 543.0L174.7 555.8L159.9 555.8ZM168.1 533.6L175.5 546.4L160.7 546.4ZM166.6 528.1L174.0 540.9L159.2 540.9ZM167.3 518.5L174.7 531.3L159.9 531.3ZM169.3 511.4L176.7 524.2L161.9 524.2ZM169.0 503.1L176.4 515.9L161.6 515.9ZM168.6 493.7L176.0 506.6L161.2 506.6ZM168.8 487.6L176.2 500.4L161.4 500.4ZM168.6 478.8L176.0 491.7L161.2 491.7ZM169.1 468.5L176.5 481.3L161.7 481.3ZM169.5 461.7L176.9 474.5L162.1 474.5ZM168.4 452.0L175.8 464.9L161.0 464.9ZM170.0 445.4L177.4 458.2L162.6 458.2ZM169.8 438.6L177.2 451.4L162.4 451.4ZM169.9 430.7L177.3 443.5L162.5 443.5ZM169.2 422.4L176.6 435.2L161.8 435.2ZM169.7 415.3L177.1 428.1L162.3 428.1ZM171.2 405.2L178.6 418.1L163.8 418.1ZM169.7 398.1L177.1 410.9L162.3 410.9ZM171.0 391.5L178.4 404.3L163.6 404.3ZM171.4 388.5L178.8 401.3L164.0 401.3ZM171.8 385.5L179.2 398.3L164.4 398.3ZM172.2 382.5L179.6 395.3L164.8 395.3ZM172.6 379.5L180.0 392.3L165.2 392.3ZM173.0 376.5L180.4 389.3L165.6 389.3ZM173.2 373.6L180.6 386.4L165.8 386.4ZM173.4 370.7L180.8 383.5L166.0 383.5ZM173.6 367.8L181.0 380.6L166.2 380.6ZM173.8 365.0L181.2 377.8L166.3 377.8ZM173.9 362.1L181.3 374.9L166.5 374.9ZM174.1 359.2L181.5 372.0L166.7 372.0ZM174.3 356.3L181.7 369.1L166.9 369.1ZM174.5 353.5L181.9 366.3L167.1 366.3ZM174.7 350.6L182.1 363.5L167.3 363.5ZM175.0 347.8L182.4 360.6L167.6 360.6ZM175.2 345.0L182.6 357.8L167.8 357.8ZM175.4 342.2L182.8 355.0L168.0 355.0ZM175.6 339.4L183.0 352.2L168.2 352.2ZM175.9 336.6L183.3 349.4L168.5 349.4ZM176.1 333.8L183.5 346.6L168.7 346.6ZM184.0 339.5L191.4 352.3L176.6 352.3ZM190.8 316.4L198.2 329.2L183.4 329.2ZM190.9 313.4L198.3 326.3L183.5 326.3ZM191.0 310.5L198.4 323.3L183.6 323.3ZM191.1 307.6L198.5 320.4L183.7 320.4ZM191.3 304.7L198.7 317.5L183.9 317.5ZM191.4 301.8L198.8 314.6L184.0 314.6ZM191.5 298.9L198.9 311.7L184.1 311.7ZM191.6 296.0L199.0 308.8L184.2 308.8ZM192.0 293.0L199.4 305.8L184.6 305.8ZM192.4 290.0L199.8 302.8L185.0 302.8ZM192.8 287.0L200.2 299.8L185.3 299.8ZM193.1 284.0L200.5 296.8L185.7 296.8ZM193.5 281.0L200.9 293.8L186.1 293.8ZM193.9 278.0L201.3 290.8L186.5 290.8ZM194.3 275.0L201.7 287.8L186.9 287.8ZM194.7 272.0L202.1 284.8L187.3 284.8ZM195.0 269.0L202.4 281.8L187.6 281.8ZM195.4 266.0L202.8 278.8L188.0 278.8ZM195.8 263.0L203.2 275.8L188.4 275.8ZM196.2 260.0L203.6 272.8L188.8 272.8ZM196.9 257.2L204.3 270.0L189.5 270.0ZM197.6 254.5L205.0 267.3L190.2 267.3ZM198.3 251.7L205.8 264.5L190.9 264.5ZM199.1 249.0L206.5 261.8L191.7 261.8ZM199.8 246.2L207.2 259.0L192.4 259.0ZM200.5 243.5L207.9 256.3L193.1 256.3ZM200.9 241.8L208.3 254.6L193.5 254.6ZM201.2 219.9L208.6 232.7L193.8 232.7ZM201.2 216.9L208.6 229.7L193.8 229.7ZM201.2 213.9L208.6 226.7L193.8 226.7ZM212.3 212.0L219.7 224.8L204.9 224.8ZM211.8 210.6L219.2 223.4L204.4 223.4ZM382.8 208.7L390.2 221.5L375.4 221.5ZM383.7 206.7L391.1 219.5L376.3 219.5ZM409.5 204.8L416.9 217.6L402.1 217.6ZM411.4 201.0L418.8 213.8L404.0 213.8ZM413.5 197.5L420.9 210.3L406.1 210.3ZM424.1 193.9L431.5 206.7L416.7 206.7ZM451.7 191.2L459.1 204.0L444.3 204.0ZM453.7 186.5L461.1 199.3L446.3 199.3ZM455.3 183.1L462.7 195.9L447.9 195.9ZM458.8 176.1L466.2 188.9L451.4 188.9ZM460.2 172.5L467.6 185.3L452.8 185.3ZM462.2 172.5L469.6 185.3L454.8 185.3ZM465.8 157.9L473.2 170.7L458.4 170.7ZM469.2 148.8L476.6 161.6L461.8 161.6ZM471.9 142.8L479.3 155.6L464.5 155.6ZM474.9 136.7L482.3 149.5L467.5 149.5ZM476.9 129.3L484.3 142.1L469.5 142.1ZM478.4 116.4L485.8 129.2L471.0 129.2ZM481.9 111.7L489.3 124.5L474.5 124.5ZM485.3 105.9L492.7 118.7L477.9 118.7ZM488.8 100.1L496.2 112.9L481.4 112.9ZM513.6 98.2L521.0 111.0L506.2 111.0ZM519.7 97.4L527.1 110.2L512.3 110.2ZM544.2 92.5L551.6 105.3L536.8 105.3ZM565.4 84.9L572.8 97.7L558.0 97.7ZM615.3 83.9L622.7 96.7L607.9 96.7Z" fill="#9AAA00"/>
<path d="M167.9 564.8L167.9 556.7L170.4 543.0L172.9 526.8L167.9 524.3L170.0 515.0L169.4 509.0L170.4 503.7L170.0 499.6L168.5 495.0L168.4 489.8L168.5 483.8L169.6 481.0L168.7 474.2L170.4 471.3L170.3 464.7L171.7 458.6L171.4 454.4L169.2 448.9L169.8 445.9L169.5 440.2L171.2 434.6L171.2 428.7L169.8 424.1L172.1 419.8L171.5 414.6L172.5 408.1L173.2 403.0L174.8 397.3L177.9 390.3L178.2 387.6L178.5 384.8L178.7 382.1L179.0 379.3L179.3 376.6L179.9 373.5L180.5 370.4L181.1 367.3L181.7 364.2L184.8 362.3L188.0 360.4L188.8 357.9L189.6 355.5L190.4 353.0L191.5 350.3L192.6 347.5L193.7 344.8L193.9 341.7L194.2 338.6L194.4 335.5L194.6 332.4L194.9 329.3L195.1 326.2L195.4 323.1L195.6 320.0L196.3 317.0L197.0 314.0L197.7 311.0L198.4 308.0L199.1 305.0L199.7 302.0L200.4 299.0L200.6 295.8L200.7 292.5L200.9 289.3L211.7 285.2L382.8 281.5L383.7 279.4L409.5 279.4L411.4 275.6L413.5 272.4L424.1 270.5L451.5 269.0L453.0 266.0L455.2 261.0L458.5 258.0L460.5 256.5L462.5 253.0L466.5 251.7L469.0 250.3L471.9 247.0L474.5 245.0L477.2 240.5L480.7 228.0L483.0 222.0L485.1 218.0L486.7 214.0L488.6 210.0L513.6 208.5L519.7 206.3L544.2 202.8L565.4 189.7L615.3 189.7" fill="none" stroke="#96008F" stroke-width="1.5" stroke-linejoin="round"/>
<path d="M167.9 556.3L175.3 569.1L160.5 569.1ZM167.9 548.2L175.3 561.0L160.5 561.0ZM170.4 534.5L177.8 547.3L163.0 547.3ZM172.9 518.3L180.3 531.1L165.5 531.1ZM167.9 515.8L175.3 528.6L160.5 528.6ZM170.0 506.5L177.4 519.3L162.6 519.3ZM169.4 500.4L176.8 513.2L162.0 513.2ZM170.4 495.2L177.8 508.0L163.0 508.0ZM170.0 491.1L177.4 503.9L162.6 503.9ZM168.5 486.5L175.9 499.3L161.1 499.3ZM168.4 481.3L175.8 494.1L161.0 494.1ZM168.5 475.2L175.9 488.0L161.1 488.0ZM169.6 472.4L177.0 485.3L162.2 485.3ZM168.7 465.6L176.1 478.4L161.3 478.4ZM170.4 462.8L177.8 475.6L163.0 475.6ZM170.3 456.1L177.7 469.0L162.9 469.0ZM171.7 450.1L179.1 462.9L164.3 462.9ZM171.4 445.8L178.8 458.6L164.0 458.6ZM169.2 440.3L176.6 453.1L161.8 453.1ZM169.8 437.4L177.2 450.2L162.4 450.2ZM169.5 431.7L176.9 444.5L162.1 444.5ZM171.2 426.1L178.6 438.9L163.8 438.9ZM171.2 420.1L178.6 433.0L163.8 433.0ZM169.8 415.6L177.2 428.4L162.4 428.4ZM172.1 411.2L179.5 424.1L164.7 424.1ZM171.5 406.0L178.9 418.9L164.1 418.9ZM172.5 399.5L179.9 412.3L165.1 412.3ZM173.2 394.5L180.6 407.3L165.8 407.3ZM174.8 388.8L182.2 401.6L167.4 401.6ZM177.9 381.8L185.3 394.6L170.5 394.6ZM178.2 379.0L185.6 391.8L170.8 391.8ZM178.5 376.3L185.9 389.1L171.1 389.1ZM178.7 373.5L186.1 386.4L171.3 386.4ZM179.0 370.8L186.4 383.6L171.6 383.6ZM179.3 368.1L186.7 380.9L171.9 380.9ZM179.9 365.0L187.3 377.8L172.5 377.8ZM180.5 361.9L187.9 374.7L173.1 374.7ZM181.1 358.8L188.5 371.6L173.7 371.6ZM181.7 355.7L189.1 368.5L174.3 368.5ZM184.8 353.8L192.2 366.6L177.4 366.6ZM188.0 351.9L195.4 364.7L180.6 364.7ZM188.8 349.4L196.2 362.2L181.4 362.2ZM189.6 346.9L197.0 359.7L182.2 359.7ZM190.4 344.5L197.8 357.3L183.0 357.3ZM191.5 341.7L198.9 354.5L184.1 354.5ZM192.6 339.0L200.0 351.8L185.2 351.8ZM193.7 336.3L201.1 349.1L186.3 349.1ZM193.9 333.2L201.3 346.0L186.5 346.0ZM194.2 330.1L201.6 342.9L186.8 342.9ZM194.4 327.0L201.8 339.8L187.0 339.8ZM194.6 323.9L202.0 336.7L187.2 336.7ZM194.9 320.8L202.3 333.6L187.5 333.6ZM195.1 317.7L202.5 330.5L187.7 330.5ZM195.4 314.6L202.8 327.4L188.0 327.4ZM195.6 311.5L203.0 324.3L188.2 324.3ZM196.3 308.5L203.7 321.3L188.9 321.3ZM197.0 305.5L204.4 318.3L189.6 318.3ZM197.7 302.5L205.1 315.3L190.3 315.3ZM198.4 299.5L205.8 312.3L191.0 312.3ZM199.1 296.5L206.5 309.3L191.7 309.3ZM199.7 293.5L207.1 306.3L192.3 306.3ZM200.4 290.5L207.8 303.3L193.0 303.3ZM200.6 287.2L208.0 300.0L193.2 300.0ZM200.7 284.0L208.1 296.8L193.3 296.8ZM200.9 280.8L208.3 293.6L193.5 293.6ZM211.7 276.7L219.1 289.5L204.3 289.5ZM382.8 273.0L390.2 285.8L375.4 285.8ZM383.7 270.9L391.1 283.7L376.3 283.7ZM409.5 270.9L416.9 283.7L402.1 283.7ZM411.4 267.1L418.8 279.9L404.0 279.9ZM413.5 263.9L420.9 276.7L406.1 276.7ZM424.1 262.0L431.5 274.8L416.7 274.8ZM451.5 260.5L458.9 273.3L444.1 273.3ZM453.0 257.5L460.4 270.3L445.6 270.3ZM455.2 252.5L462.6 265.3L447.8 265.3ZM458.5 249.5L465.9 262.3L451.1 262.3ZM460.5 248.0L467.9 260.8L453.1 260.8ZM462.5 244.5L469.9 257.3L455.1 257.3ZM466.5 243.2L473.9 256.0L459.1 256.0ZM469.0 241.8L476.4 254.6L461.6 254.6ZM471.9 238.5L479.3 251.3L464.5 251.3ZM474.5 236.5L481.9 249.3L467.1 249.3ZM477.2 232.0L484.6 244.8L469.8 244.8ZM480.7 219.5L488.1 232.3L473.3 232.3ZM483.0 213.5L490.4 226.3L475.6 226.3ZM485.1 209.5L492.5 222.3L477.7 222.3ZM486.7 205.5L494.1 218.3L479.3 218.3ZM488.6 201.5L496.0 214.3L481.2 214.3ZM513.6 200.0L521.0 212.8L506.2 212.8ZM519.7 197.8L527.1 210.6L512.3 210.6ZM544.2 194.3L551.6 207.1L536.8 207.1ZM565.4 181.2L572.8 194.0L558.0 194.0ZM615.3 181.2L622.7 194.0L607.9 194.0Z" fill="#96008F"/>
</g>
<rect x="101.3" y="12.85" width="552.50" height="551.95" fill="none" stroke="#000" stroke-width="1.7"/>
<path d="M101.30 564.8v-3.6M101.30 12.85v3.6M211.80 564.8v-3.6M211.80 12.85v3.6M322.30 564.8v-3.6M322.30 12.85v3.6M432.80 564.8v-3.6M432.80 12.85v3.6M543.30 564.8v-3.6M543.30 12.85v3.6M653.80 564.8v-3.6M653.80 12.85v3.6M101.3 564.80h3.6M653.8 564.80h-3.6M101.3 472.81h3.6M653.8 472.81h-3.6M101.3 380.82h3.6M653.8 380.82h-3.6M101.3 288.82h3.6M653.8 288.82h-3.6M101.3 196.83h3.6M653.8 196.83h-3.6M101.3 104.84h3.6M653.8 104.84h-3.6M101.3 12.85h3.6M653.8 12.85h-3.6" stroke="#000" stroke-width="1.6" fill="none"/>
<g class="tk"><text x="101.3" y="591.6" text-anchor="middle">0</text><text x="211.8" y="591.6" text-anchor="middle">500</text><text x="322.3" y="591.6" text-anchor="middle">1000</text><text x="432.8" y="591.6" text-anchor="middle">1500</text><text x="543.3" y="591.6" text-anchor="middle">2000</text><text x="653.8" y="591.6" text-anchor="middle">2500</text><text x="91.2" y="573.8" text-anchor="end">0</text><text x="91.2" y="481.8" text-anchor="end">50</text><text x="91.2" y="389.8" text-anchor="end">100</text><text x="91.2" y="297.8" text-anchor="end">150</text><text x="91.2" y="205.8" text-anchor="end">200</text><text x="91.2" y="113.8" text-anchor="end">250</text><text x="91.2" y="21.9" text-anchor="end">300</text></g>
<text class="lb" x="379" y="643.7" text-anchor="middle">time</text>
<text class="lb yl" transform="translate(22,290) rotate(-90)" text-anchor="middle">No. nodes</text>
</svg>
</body></html>
